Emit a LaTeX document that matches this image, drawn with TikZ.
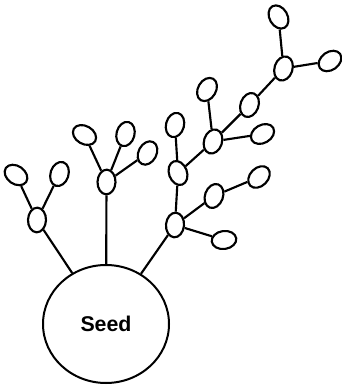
\documentclass[tikz,border=0pt]{standalone}
\usepackage{fontspec}
\setmainfont{Liberation Sans}
\usetikzlibrary{shapes.geometric}

\tikzset{
	bud/.style={draw, ellipse, line width=1.6pt, minimum width=18.5pt, minimum height=13.5pt, inner sep=0pt},
	seedball/.style={draw, ellipse, line width=1.5pt, minimum width=94.5pt, minimum height=88.5pt, font=\bfseries\fontsize{16}{19}\selectfont},
	twig/.style={line width=1.6pt},
}

\begin{document}
\begin{tikzpicture}[x=0.75pt,y=0.75pt]
	\useasboundingbox (0,0) rectangle (342,385);	%same frame as the original
	\node[seedball] (seed) at (106,61) {Seed};		%the root
	
	%name/position/tilt of every small bud
	\foreach \nm/\pos/\ang in {
		h1/{(37,165)}/88, a1/{(16,210)}/-35, a2/{(59.5,211)}/72,
		h2/{(106.5,203)}/88, b1/{(84.5,250)}/-30, b2/{(125.5,251)}/75, b3/{(147.5,232)}/62,
		h3/{(175,160)}/85, c1/{(224,145)}/8, c2/{(214,189)}/70, c3/{(259,208)}/45,
		d/{(178,212)}/110, d1/{(175,260)}/75,
		h4/{(213,243.5)}/72, e1/{(207,295.5)}/60, e2/{(262.5,251)}/30, f/{(249.5,280)}/70,
		h5/{(283.5,316.5)}/72, g1/{(278.5,368)}/120, g2/{(330,324)}/35}{
		\node[bud, rotate=\ang] (\nm) at \pos {};
	}
	
	%connections
	\foreach \u/\v in {seed/h1, seed/h2, seed/h3, h1/a1, h1/a2, h2/b1, h2/b2, h2/b3,
		h3/c1, h3/c2, c2/c3, h3/d, d/d1, d/h4, h4/e1, h4/e2, h4/f, f/h5, h5/g1, h5/g2}{
		\draw[twig] (\u) -- (\v);
	}
\end{tikzpicture}
\end{document}
